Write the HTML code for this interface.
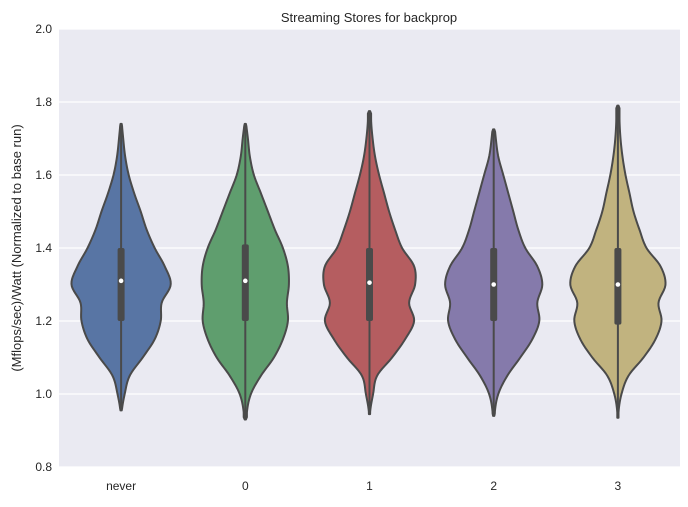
<!DOCTYPE html>
<html><head><meta charset="utf-8"><style>
body{margin:0;background:#fff;}
svg text{font-family:"Liberation Sans",sans-serif;fill:#262626;}
</style></head><body>
<svg id="chart" width="688" height="502" xmlns="http://www.w3.org/2000/svg">
<rect x="59" y="29" width="621" height="438" fill="#eaeaf2"/>
<g id="grid"></g><g id="violins"></g><g id="axes"></g>
<text x="369" y="22" font-size="13" text-anchor="middle">Streaming Stores for backprop</text>
<text transform="translate(21,248) rotate(-90)" font-size="13" text-anchor="middle">(Mflops/sec)/Watt (Normalized to base run)</text>
</svg>
<script>
const categories=["never","0","1","2","3"];
const colors=["#5875a4","#5f9e6e","#b55d60","#857aab","#c1b37f"];
const levels=[0.95,1.0,1.05,1.1,1.15,1.2,1.25,1.3,1.35,1.4,1.45,1.5,1.55,1.6,1.65,1.7,1.75];
const densNever=[0,0.06,0.16,0.42,0.66,0.78,0.8,0.98,0.86,0.66,0.5,0.38,0.25,0.14,0.07,0.03,0];
const dens0=[0.02,0.1,0.3,0.56,0.74,0.84,0.82,0.86,0.84,0.74,0.58,0.44,0.3,0.16,0.08,0.04,0];
const dens1=[0,0.06,0.14,0.44,0.7,0.88,0.78,0.9,0.88,0.64,0.5,0.38,0.28,0.18,0.1,0.05,0.02];
const dens2=[0.01,0.08,0.26,0.52,0.76,0.9,0.86,0.96,0.86,0.62,0.48,0.38,0.28,0.18,0.08,0.03,0];
const dens3=[0,0.06,0.2,0.5,0.74,0.86,0.8,0.94,0.84,0.56,0.42,0.3,0.22,0.14,0.08,0.04,0.02];
const densities=[densNever,dens0,dens1,dens2,dens3];
const mins=[0.955,0.93,0.945,0.94,0.935];
const maxs=[1.74,1.74,1.775,1.725,1.79];
const q1s=[1.2,1.2,1.2,1.2,1.19];
const q3s=[1.4,1.41,1.4,1.4,1.4];
const medians=[1.31,1.31,1.305,1.3,1.3];
const yTicks=[0.8,1.0,1.2,1.4,1.6,1.8,2.0];
const tickLabels=["0.8","1.0","1.2","1.4","1.6","1.8","2.0"];

const NS="http://www.w3.org/2000/svg";
const L=59,R=680,T=29,B=467,yMin=0.8,yMax=2.0;
const y=v=>B-(v-yMin)/(yMax-yMin)*(B-T);
const band=(R-L)/categories.length;
const x=i=>L+band*(i+0.5);
const W=50;
function mk(tag,attrs,parent){const e=document.createElementNS(NS,tag);for(const k in attrs)e.setAttribute(k,attrs[k]);parent.appendChild(e);return e;}
const grid=document.getElementById('grid'),axes=document.getElementById('axes'),vg=document.getElementById('violins');
yTicks.forEach((t,i)=>{
  const l=mk('line',{x1:L,x2:R,y1:y(t),y2:y(t),stroke:'#fff','stroke-width':1.2},grid);
  
  
  const tx=mk('text',{x:52,y:y(t)+4,'font-size':12,'text-anchor':'end'},axes);
  tx.textContent=tickLabels[i];
  
  
});
function interp(d,v){
  const n=levels.length,h=levels[1]-levels[0];
  let s=(v-levels[0])/h; if(s<0)s=0; if(s>n-1)s=n-1;
  let k=Math.min(Math.floor(s),n-2); const t=s-k;
  const p0=d[Math.max(k-1,0)],p1=d[k],p2=d[k+1],p3=d[Math.min(k+2,n-1)];
  const r=0.5*((2*p1)+(-p0+p2)*t+(2*p0-5*p1+4*p2-p3)*t*t+(-p0+3*p1-3*p2+p3)*t*t*t);
  return Math.max(r,0);
}
categories.forEach((c,i)=>{
  const d=densities[i],cx=x(i);
  const pts=[];const N=120;
  for(let k=0;k<=N;k++){const v=mins[i]+(maxs[i]-mins[i])*k/N;
    let w=interp(d,v)*W+0.6; if(k===0||k===N)w=0.6; pts.push([v,w]);}
  let p='M'+(cx+pts[0][1])+','+y(pts[0][0]);
  pts.forEach(q=>{p+=' L'+(cx+q[1]).toFixed(2)+','+y(q[0]).toFixed(2);});
  for(let k=pts.length-1;k>=0;k--){p+=' L'+(cx-pts[k][1]).toFixed(2)+','+y(pts[k][0]).toFixed(2);}
  p+='Z';
  const g=mk('g',{},vg);
  
  
  mk('path',{d:p,fill:colors[i],stroke:'#4a4a4a','stroke-width':2,'stroke-linejoin':'round'},g);
  mk('line',{x1:cx,x2:cx,y1:y(mins[i]),y2:y(maxs[i]),stroke:'#4a4a4a','stroke-width':2},g);
  mk('rect',{x:cx-3.5,y:y(q3s[i]),width:7,height:y(q1s[i])-y(q3s[i]),rx:2,fill:'#4a4a4a'},g);
  mk('circle',{cx:cx,cy:y(medians[i]),r:2.3,fill:'#fff'},g);
  const tx=mk('text',{x:cx,y:490,'font-size':12,'text-anchor':'middle'},axes);
  tx.textContent=c;
  
  
});
</script>
</body></html>
